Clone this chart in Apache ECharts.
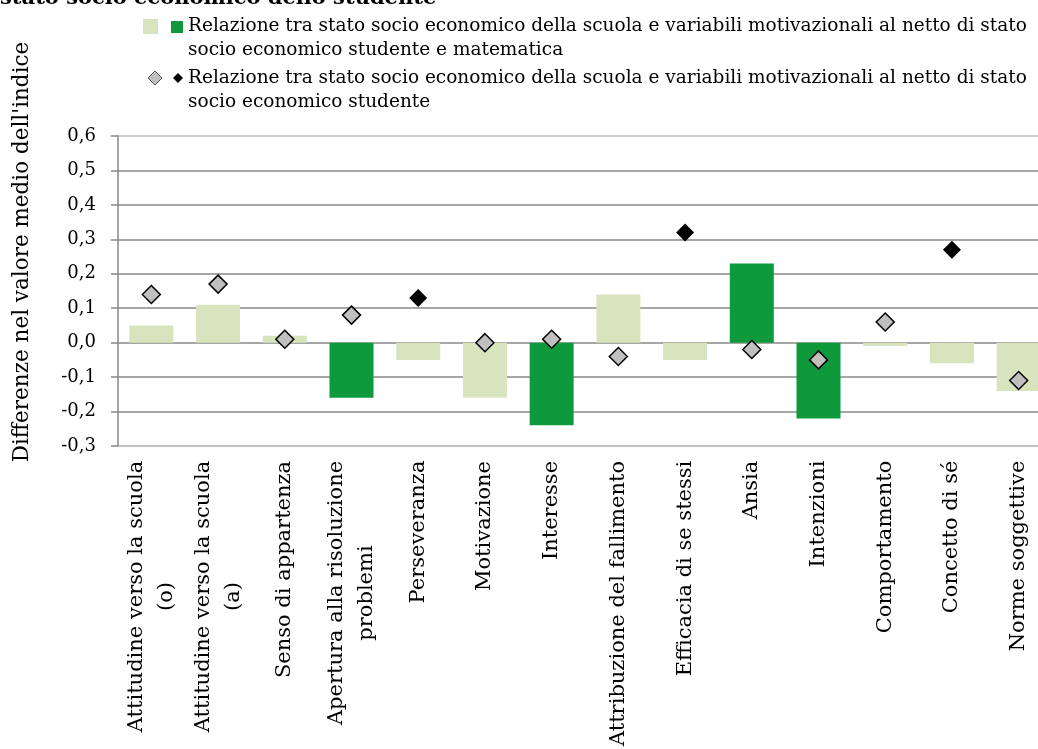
<!DOCTYPE html>
<html>
<head>
<meta charset="utf-8">
<script src="https://cdn.jsdelivr.net/npm/echarts@6/dist/echarts.min.js"></script>
<style>
html,body{margin:0;padding:0;background:#fff;}
#chart{width:1038px;height:749px;}
</style>
</head>
<body>
<div id="chart"></div>
<script>
// ---- DATA ----
const categories = [
  'Attitudine verso la scuola\n(o)',
  'Attitudine verso la scuola\n(a)',
  'Senso di appartenza',
  'Apertura alla risoluzione\nproblemi',
  'Perseveranza',
  'Motivazione',
  'Interesse',
  'Attribuzione del fallimento',
  'Efficacia di se stessi',
  'Ansia',
  'Intenzioni',
  'Comportamento',
  'Concetto di sé',
  'Norme soggettive'
];
// Bars: net of student SES and mathematics
const barValues = [0.05, 0.11, 0.02, -0.16, -0.05, -0.16, -0.24, 0.14, -0.05, 0.23, -0.22, -0.01, -0.06, -0.14];
const barSignificant = [false, false, false, true, false, false, true, false, false, true, true, false, false, false];
// Diamonds: net of student SES only
const pointValues = [0.14, 0.17, 0.01, 0.08, 0.13, 0.00, 0.01, -0.04, 0.32, -0.02, -0.05, 0.06, 0.27, -0.11];
const pointSignificant = [false, false, false, false, true, false, false, false, true, false, false, false, true, false];
const yTicks = ['-0,3', '-0,2', '-0,1', '0,0', '0,1', '0,2', '0,3', '0,4', '0,5', '0,6'];
const legendText1 = 'Relazione tra stato socio economico della scuola e variabili motivazionali al netto di stato\nsocio economico studente e matematica';
const legendText2 = 'Relazione tra stato socio economico della scuola e variabili motivazionali al netto di stato\nsocio economico studente';
const yAxisTitle = "Differenze nel valore medio dell'indice";
const topTitle = 'stato socio economico dello studente';

// ---- STYLE ----
const FONT = '"DejaVu Serif", serif';
const FS = 18;
const XFS = 21;
const LFS = 18.5;
const LIGHT = '#d7e4bd';
const DARK = '#0e9a3c';

// measure label lines so wrapped lines are centred within their block
const ctx = document.createElement('canvas').getContext('2d');
ctx.font = XFS + 'px "DejaVu Serif"';
const rich = {};
categories.forEach((c, i) => {
  const w = Math.max(...c.split('\n').map(l => ctx.measureText(l).width));
  rich['w' + i] = {width: Math.ceil(w) + 1, align: 'center', fontFamily: FONT, fontSize: XFS, color: '#000', lineHeight: 30};
});

const chart = echarts.init(document.getElementById('chart'));
const option = {
  animation: false,
  textStyle: {fontFamily: FONT, color: '#000'},
  grid: {left: 118, width: 934, top: 136, bottom: 303, containLabel: false, outerBoundsMode: 'none'},
  xAxis: {
    type: 'category',
    data: categories,
    axisLine: {onZero: false, lineStyle: {color: '#bfbfbf', width: 1.5}},
    axisTick: {show: false},
    axisLabel: {
      rotate: 90, interval: 0, margin: 14,
      fontFamily: FONT, fontSize: XFS, color: '#000',
      formatter: (v, i) => v.split('\n').map(l => '{w' + i + '|' + l + '}').join('\n'),
      rich: rich
    }
  },
  yAxis: {
    type: 'value', min: -0.3, max: 0.6, interval: 0.1,
    axisLine: {show: true, lineStyle: {color: '#888', width: 1.5}},
    axisTick: {show: true, length: 7, lineStyle: {color: '#888', width: 1.5}},
    axisLabel: {
      fontFamily: FONT, fontSize: FS, color: '#000', margin: 22,
      formatter: v => yTicks[Math.round((v + 0.3) * 10)]
    },
    splitLine: {show: true, lineStyle: {color: ['#bfbfbf', '#888', '#888', '#888', '#888', '#888', '#888', '#888', '#888', '#bfbfbf'], width: 1.5}}
  },
  series: [
    {
      type: 'bar',
      barWidth: 44,
      data: barValues.map((v, i) => ({value: v, itemStyle: {color: barSignificant[i] ? DARK : LIGHT}})),
      z: 2
    },
    {
      type: 'scatter',
      symbol: 'diamond',
      data: pointValues.map((v, i) => ({
        value: v,
        symbolSize: 18,
        itemStyle: pointSignificant[i]
          ? {color: '#000', borderColor: '#000', borderWidth: 0, opacity: 1}
          : {color: '#c0c0c0', borderColor: '#000', borderWidth: 1.5, opacity: 1}
      })),
      z: 3
    }
  ],
  graphic: [
    {type: 'text', left: 0, top: -12, style: {text: topTitle, font: 'bold 21px ' + FONT, fill: '#000'}},
    {type: 'text', x: 22, y: 252, rotation: Math.PI / 2, style: {text: yAxisTitle, font: '21.5px ' + FONT, fill: '#000', align: 'center', verticalAlign: 'middle'}},
    {type: 'rect', shape: {x: 143, y: 19, width: 15, height: 15}, style: {fill: LIGHT}},
    {type: 'rect', shape: {x: 171, y: 21, width: 12, height: 12}, style: {fill: DARK}},
    {type: 'text', x: 188, y: 14, style: {text: legendText1, font: LFS + 'px ' + FONT, fill: '#000', lineHeight: 24}},
    {type: 'polygon', shape: {points: [[155, 71], [162, 78], [155, 85], [148, 78]]}, style: {fill: '#c0c0c0', stroke: '#555', lineWidth: 1}},
    {type: 'polygon', shape: {points: [[178, 73], [183, 78], [178, 83], [173, 78]]}, style: {fill: '#000'}},
    {type: 'text', x: 188, y: 66, style: {text: legendText2, font: LFS + 'px ' + FONT, fill: '#000', lineHeight: 24}}
  ]
};
chart.setOption(option);
</script>
</body>
</html>
